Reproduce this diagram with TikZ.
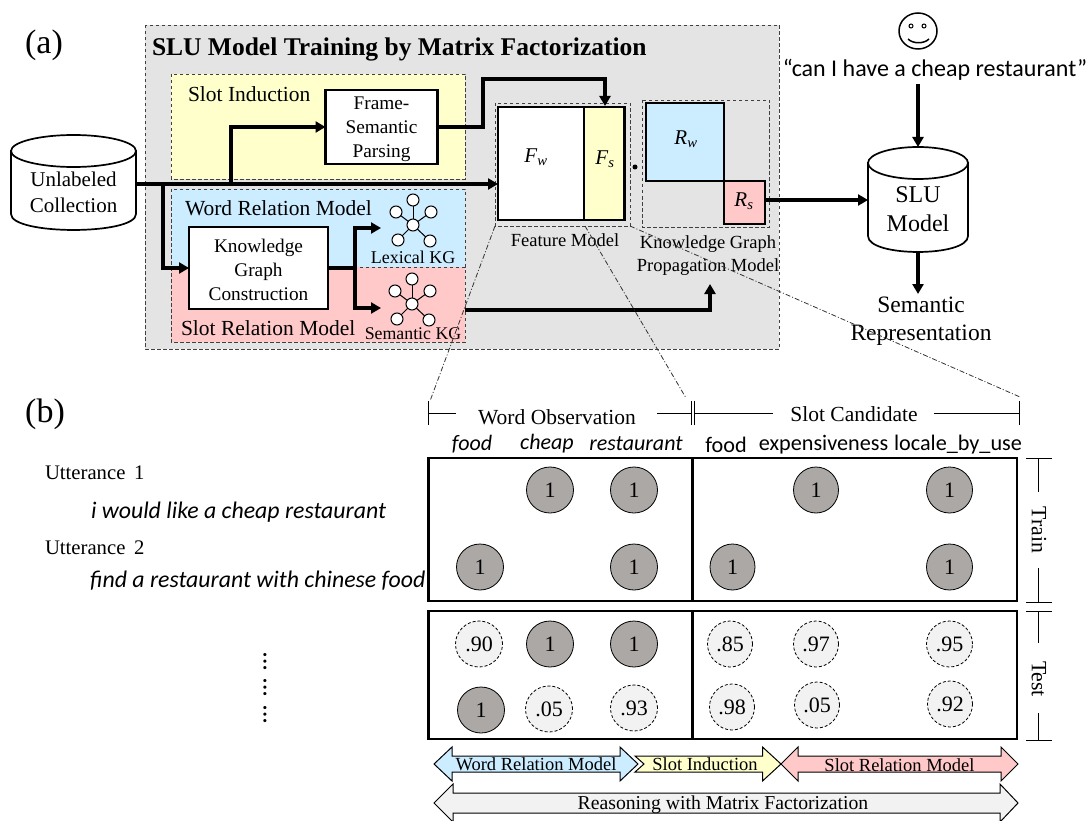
\documentclass[tikz,border=0pt]{standalone}
\usepackage{fontspec}
\setmainfont{Liberation Serif}
\newfontfamily\carl{Carlito}
\usetikzlibrary{arrows.meta,shapes.geometric,calc}
\definecolor{panel}{HTML}{E4E4E4}
\definecolor{ylw}{HTML}{FFFFCC}
\definecolor{blu}{HTML}{CCECFF}
\definecolor{pnk}{HTML}{FFC9C9}
\definecolor{dotc}{HTML}{ABA8A6}
\definecolor{pale}{HTML}{F2F2F2}
\newcommand{\fs}[1]{\fontsize{#1}{#1}\selectfont}
\tikzset{
  x=1pt,y=-1pt,
  every node/.style={inner sep=0,outer sep=0},
  dashbox/.style={draw=black!75,line width=0.9pt,dash pattern=on 3.5pt off 2.5pt},
  thickbox/.style={draw=black,line width=2.2pt,fill=white},
  boxtext/.style={align=center,font=\fs{19.3}},
  flow/.style={line width=3.3pt,-{Triangle[length=10pt,width=11pt]}},
  plainl/.style={line width=3.3pt},
  lbl/.style={font=\fs{21.5},align=center},
  cyl/.style={draw=black,line width=1.7pt,fill=white},
  kgc/.style={circle,draw=black,line width=1pt,fill=white,minimum size=12pt},
  kge/.style={line width=1pt},
  one/.style={ellipse,draw=black,line width=0.8pt,fill=dotc,minimum width=47pt,minimum height=46pt,font=\fs{22}},
  pred/.style={ellipse,draw=black,line width=0.8pt,dash pattern=on 3pt off 2pt,fill=pale,minimum width=47pt,minimum height=46pt,font=\fs{22}},
  gridl/.style={draw=black,line width=2.2pt},
  thinl/.style={draw=black,line width=0.9pt},
  dd/.style={draw=black!80,line width=0.8pt,dash pattern=on 5pt off 2pt on 1pt off 2pt},
  blk/.style={draw=black,line width=1pt},
  blklbl/.style={font=\fs{18.5}},
  hdr/.style={font=\carl\fs{22.2}},
  hdri/.style={font=\carl\itshape\fs{22}},
  vdots/.style={rotate=90,font=\carl\fs{26}},
  uttr/.style={anchor=west,font=\fs{20.7}},
  utxt/.style={anchor=west,font=\carl\itshape\fs{23.8}},
  bracket/.style={font=\fs{21.5}},
  side/.style={rotate=-90,font=\fs{21.8}}
}
\newcommand{\kgraph}[3]{%
  \node[kgc] (#1c) at (#2,#3) {};
  \node[kgc] (#1a) at ($(#1c)+(0,-25)$) {};
  \node[kgc] (#1b) at ($(#1c)+(-17,-13)$) {};
  \node[kgc] (#1d) at ($(#1c)+(18,-13)$) {};
  \node[kgc] (#1e) at ($(#1c)+(-15,15)$) {};
  \node[kgc] (#1f) at ($(#1c)+(17,16)$) {};
  \foreach \p in {a,b,d,e,f} \draw[kge] (#1c) -- (#1\p);
}
\begin{document}
\begin{tikzpicture}
\useasboundingbox (0,0) rectangle (1086,821);
% (a) panel
\node[font=\fs{34}] (la) at (44,45) {(a)};
\node[font=\fs{34}] (lb) at (45,414) {(b)};
\draw[dashbox,fill=panel] (145,25) rectangle (779,349);
\node[anchor=west,font=\bfseries\fs{25.5}] (title) at (152,49) {SLU Model Training by Matrix Factorization};
\draw[dashbox,fill=ylw] (171,74) rectangle (465,179);
\draw[dashbox,fill=blu] (171,189) rectangle (465,267);
\draw[dashbox,fill=pnk] (171,267) rectangle (465,342);
\node[lbl,anchor=west] (si) at (188,94) {Slot Induction};
\node[lbl,anchor=west] (wr) at (185,208) {Word Relation Model};
\node[lbl,anchor=west] (sr) at (181,328) {Slot Relation Model};
% cylinders
\node (unl) at (73.5,184) [minimum width=125pt,minimum height=92pt] {};
\draw[cyl] (11,151) -- (11,214) .. controls (11,235.3) and (136,235.3) .. (136,214) -- (136,151) -- cycle;
\draw[cyl] (73.5,151) ellipse[x radius=62.5,y radius=16];
\node[font=\fs{21},align=center] (unlt) at (73.5,192) {Unlabeled\\[5pt]Collection};
\node (slu) at (918,200) [minimum width=100pt,minimum height=105pt] {};
\draw[cyl] (868,163) -- (868,236) .. controls (868,257.3) and (968,257.3) .. (968,236) -- (968,163) -- cycle;
\draw[cyl] (918,163) ellipse[x radius=50,y radius=16];
\node[font=\fs{24},align=center] (slut) at (918,209) {SLU\\[5pt]Model};
% boxes
\node[thickbox,minimum width=112pt,minimum height=74pt] (frame) at (381.5,127) {};
\node[boxtext] (framet) at (381.5,129) {Frame-\\[4.5pt]Semantic\\[4.5pt]Parsing};
\node[thickbox,minimum width=139pt,minimum height=82pt] (kgb) at (258.5,268) {};
\node[boxtext] (kgbt) at (258.5,270) {Knowledge\\[4.5pt]Graph\\[4.5pt]Construction};
% feature model
\draw[dashbox,fill=none] (495,103) rectangle (630,226);
\node[draw=black,line width=2.2pt,fill=white,minimum width=86pt,minimum height=113pt] (fw) at (541,163.5) {};
\node[draw=black,line width=2.2pt,fill=ylw,minimum width=40.5pt,minimum height=113pt] (fsb) at (604.2,163.5) {};
\node[font=\itshape\fs{21}] (fwt) at (536,157) {F\textsubscript{w}};
\node[font=\itshape\fs{21}] (fst) at (605,159) {F\textsubscript{s}};
\node[circle,fill=black,minimum size=5pt] (dotm) at (635,167) {};
\node[font=\fs{18.5}] (fm) at (565,240) {Feature Model};
% propagation model
\draw[dashbox,fill=none] (642,100) rectangle (769,227);
\node[draw=black,line width=2.2pt,fill=blu,minimum width=78pt,minimum height=78pt] (rw) at (685,142) {};
\node[draw=black,line width=2.2pt,fill=pnk,minimum width=41.5pt,minimum height=43pt] (rs) at (744.5,202.5) {};
\node[font=\itshape\fs{21}] (rwt) at (686,139) {R\textsubscript{w}};
\node[font=\itshape\fs{21}] (rst) at (744,201) {R\textsubscript{s}};
\node[font=\fs{18.5},align=center] (kgp) at (708,255.5) {Knowledge Graph\\[4pt]Propagation Model};
% graphs
\kgraph{l}{413}{225}
\kgraph{s}{412}{304}
\node[font=\fs{18}] (lk) at (413,257) {Lexical KG};
\node[font=\fs{17.8}] (sk) at (413,334) {Semantic KG};
% flows
\coordinate (mainout) at (136,184);
\coordinate (b1) at (231,184);
\coordinate (b2) at (163,184);
\draw[flow] (mainout) -- (fw.west |- mainout);
\draw[flow] (b1) |- (frame.west);
\draw[flow] (b2) |- (kgb.west);
\coordinate (k1) at (355,268);
\draw[plainl] (kgb.east) -- (k1);
\coordinate (lin) at (381,228);
\coordinate (sin) at (381,308);
\draw[flow] (k1) |- (lin);
\draw[flow] (k1) |- (sin);
\coordinate (t1) at (483,127);
\coordinate (t2) at (483,79);
\coordinate (t3) at (605,79);
\coordinate (t4) at (605,106);
\draw[flow] (frame.east) -- (t1) -- (t2) -- (t3) -- (t4);
\coordinate (p0) at (465,310);
\coordinate (p1) at (710,310);
\coordinate (p2) at (710,284);
\draw[flow] (p0) -- (p1) -- (p2);
\coordinate (rsout) at (765.5,200);
\draw[flow] (rsout) -- (rsout -| slu.west);
% right side
\draw[black,line width=1.5pt] (918,31) ellipse[x radius=19,y radius=18] ;
\node[circle,draw=black,line width=1pt,minimum size=4pt] (eye1) at (911,26) {};
\node[circle,draw=black,line width=1pt,minimum size=4pt] (eye2) at (924,26) {};
\draw[line width=1.5pt] (908,39) .. controls (913,44) and (924,44) .. (929,39);
\node[font=\carl\fs{24}] (say) at (935,70) {“can I have a cheap restaurant”};
\coordinate (saya) at (918,84);
\draw[flow] (saya) -- (918,147);
\coordinate (sema) at (918,294);
\draw[flow] (918,252) -- (sema);
\node[lbl,font=\fs{23.5}] (sem) at (921,321) {Semantic\\[5pt]Representation};
% (b) left
\node[uttr] (u1) at (45,473) {Utterance\, 1};
\node[utxt] (u1t) at (91,512) {i would like a cheap restaurant};
\node[uttr] (u2) at (45,548) {Utterance\, 2};
\node[utxt] (u2t) at (90,581) {find a restaurant with chinese food};
\node[vdots] (v1) at (265,662) {…};
\node[vdots] (v2) at (265,688) {…};
\node[vdots] (v3) at (265,715) {…};
% brackets
\node[bracket] (wo) at (557,417) {Word Observation};
\node[bracket] (sc) at (854,414) {Slot Candidate};
\coordinate (bl) at (428.5,413);
\coordinate (bm1) at (691,413);
\coordinate (bm2) at (694,413);
\coordinate (br) at (1019,413);
\draw[thinl] (bl) -- (456,413) (657,413) -- (bm1) (bm2) -- (773,413) (934,413) -- (br);
\foreach \c in {bl,bm1,bm2,br} \draw[thinl] ($(\c)+(0,-12)$) -- ($(\c)+(0,12)$);
\node[hdri] (h1) at (472,444) {food};
\node[hdri] (h2) at (547,444) {cheap};
\node[hdri] (h3) at (636,444) {restaurant};
\node[hdr] (h4) at (726,445) {food};
\node[hdr] (h5) at (823.5,445) {expensiveness};
\node[hdr] (h6) at (958,445) {locale\_by\_use};
% grids
\draw[gridl] (428.5,458) rectangle (1017,601);
\draw[gridl] (428.5,611) rectangle (1017,739);
\draw[gridl] (692.4,458) -- (692.4,601);
\draw[gridl] (692.4,611) -- (692.4,739);
\node[one] (a2) at (550,490) {1};
\node[one] (a3) at (634,490) {1};
\node[one,minimum width=45pt] (a5) at (816,490) {1};
\node[one,minimum width=46pt] (a6) at (949.5,490) {1};
\node[one] (b1n) at (480,567) {1};
\node[one] (b3) at (634,567) {1};
\node[one,minimum width=45pt] (b4) at (732.5,567) {1};
\node[one,minimum width=46pt] (b6) at (949.5,567) {1};
\node[pred] (c1) at (479,644) {.90};
\node[one] (c2) at (550,644) {1};
\node[one] (c3) at (634,644) {1};
\node[pred,minimum width=45pt] (c4) at (730,644) {.85};
\node[pred,minimum width=45pt] (c5) at (816,644) {.97};
\node[pred,minimum width=46pt] (c6) at (949.5,644) {.95};
\node[one] (d1) at (481,710) {1};
\node[pred] (d2) at (549,709) {.05};
\node[pred] (d3) at (634,708) {.93};
\node[pred,minimum width=45pt] (d4) at (732,707) {.98};
\node[pred,minimum width=45pt] (d5) at (817,705) {.05};
\node[pred,minimum width=45pt] (d6) at (950,704) {.92};
% train/test rules
\node[side] (tr) at (1039,530) {Train};
\node[side] (te) at (1039,679) {Test};
\coordinate (ta) at (1038,458);
\coordinate (tb) at (1038,602);
\coordinate (tc) at (1038,611);
\coordinate (td) at (1038,740);
\draw[thinl] (ta) -- (1038,492) (1038,568) -- (tb) (tc) -- (1038,643) (1038,713) -- (td);
\foreach \c in {ta,tb,tc,td} \draw[thinl] ($(\c)+(-12,0)$) -- ($(\c)+(14,0)$);
% block arrows
\draw[blk,fill=pale] (434,803) -- (453,784) -- (453,793) -- (1000,793) -- (1000,784) -- (1018,803) -- (1000,822) -- (1000,813) -- (453,813) -- (453,822) -- cycle;
\node[font=\fs{19.7}] (rl) at (723,805) {Reasoning with Matrix Factorization};
\draw[blk,fill=ylw] (635,756) -- (762.5,756) -- (762.5,747) -- (781,764) -- (762.5,781) -- (762.5,772) -- (635,772) -- (644,764) -- cycle;
\draw[blk,fill=blu] (434,764) -- (452,747) -- (452,756) -- (620,756) -- (620,747) -- (638,764) -- (620,781) -- (620,772) -- (452,772) -- (452,781) -- cycle;
\draw[blk,fill=pnk] (781,764) -- (798,747) -- (798,756) -- (1001,756) -- (1001,747) -- (1018,764) -- (1001,781) -- (1001,772) -- (798,772) -- (798,781) -- cycle;
\node[blklbl] (wl) at (536,764) {Word Relation Model};
\node[blklbl] (sl) at (705,764) {Slot Induction};
\node[blklbl] (rrl) at (899.5,765) {Slot Relation Model};
% zoom lines
\coordinate (z1) at (495,226);
\coordinate (z2) at (585,226);
\coordinate (z3) at (630,226);
\coordinate (y1) at (430,401);
\coordinate (y2) at (686,398);
\coordinate (y3) at (1020,397);
\draw[dd] (z1) -- (y1);
\draw[dd] (z2) -- (y2);
\draw[dd] (z3) -- (y3);
\end{tikzpicture}
\end{document}
